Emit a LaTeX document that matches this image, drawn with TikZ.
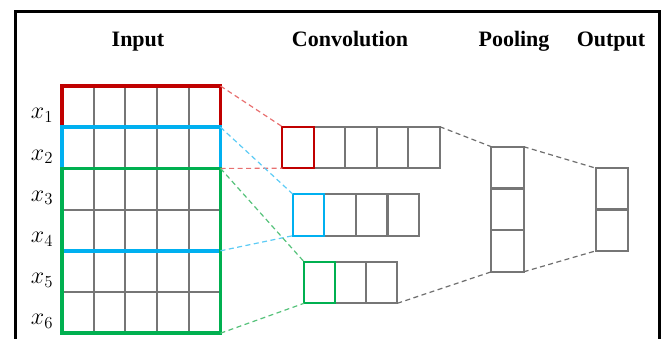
\documentclass[tikz,border=0pt]{standalone}
\usepackage{fix-cm}
\usepackage{fontspec}
\setmainfont{Liberation Serif}
\definecolor{cred}{HTML}{C00000}
\definecolor{cblue}{HTML}{00B0F0}
\definecolor{cgreen}{HTML}{00B050}
\definecolor{cgrid}{HTML}{767676}
\definecolor{dred}{HTML}{E87070}
\definecolor{dblue}{HTML}{5CCBF5}
\definecolor{dgreen}{HTML}{55C27A}
\definecolor{dgrey}{HTML}{6E6E6E}
\begin{document}
\begin{tikzpicture}[x=1pt,y=-1pt,
  gridline/.style={draw=cgrid, line width=1.9pt},
  colbox/.style={line width=3.8pt},
  cellbox/.style={line width=2.2pt},
  conn/.style={dash pattern=on 5pt off 3.5pt, line width=1.2pt},
  title/.style={font=\bfseries\fontsize{22}{25}\selectfont, inner sep=0pt, anchor=base},
  xlab/.style={font=\fontsize{24}{28}\selectfont, inner sep=0pt}]
\useasboundingbox (0,0) rectangle (666,338);
% frame
\draw[line width=2.6pt] (15.3,345) |- (659.5,11.3) -- (659.5,345);
% titles
\node[title] (tin)  at (138,46.5) {Input};
\node[title] (tcv)  at (350,46.5) {Convolution};
\node[title] (tpl)  at (514,46.5) {Pooling};
\node[title] (tout) at (611,46.5) {Output};
% input grid
\foreach \i in {0,...,6}{
  \draw[gridline] (62,86+41.2*\i) -- (220.5,86+41.2*\i);}
\foreach \j in {0,...,5}{
  \draw[gridline] (62+31.7*\j,86) -- (62+31.7*\j,333.2);}
% labels
\foreach \k in {1,...,6}{
  \node[xlab] (x\k) at (42,86+41.2*\k-20.6+9) {$x_{\k}$};}
% coloured windows
\coordinate (iA) at (220.5,86);
\coordinate (iB) at (220.5,127.2);
\coordinate (iC) at (220.5,168.4);
\coordinate (iD) at (220.5,250.8);
\coordinate (iE) at (220.5,333.2);
\draw[colbox,cred] (62,168.4) -- (62,86) -- (iA) -- (iC);
\draw[colbox,cblue] (62,127.2) rectangle (iD);
\draw[colbox,cgreen] (62,168.4) rectangle (iE);
% convolution rows
\foreach \j in {0,...,4}{
  \draw[cellbox,draw=cgrid] (282.3+31.5*\j,126.7) rectangle (282.3+31.5*\j+31.5,168.3);}
\foreach \j in {0,...,3}{
  \draw[cellbox,draw=cgrid] (292.7+31.6*\j,194) rectangle (292.7+31.6*\j+31.6,235.7);}
\foreach \j in {0,...,2}{
  \draw[cellbox,draw=cgrid] (304+31.1*\j,261.7) rectangle (304+31.1*\j+31.1,303.3);}
\draw[cellbox,draw=cred] (282.3,126.7) rectangle (313.8,168.3);
\draw[cellbox,draw=cblue] (292.7,194) rectangle (324.3,235.7);
\draw[cellbox,draw=cgreen] (304,261.7) rectangle (335.1,303.3);
\coordinate (c1tl) at (282.3,126.7);
\coordinate (c1bl) at (282.3,168.3);
\coordinate (c1tr) at (439.8,126.7);
\coordinate (c2tl) at (292.7,194);
\coordinate (c2bl) at (292.7,235.7);
\coordinate (c3tl) at (304,261.7);
\coordinate (c3bl) at (304,303.3);
\coordinate (c3br) at (397.3,303.3);
% pooling
\foreach \j in {0,...,2}{
  \draw[cellbox,draw=cgrid] (491.3,146.7+41.7*\j) rectangle (523.7,146.7+41.7*\j+41.7);}
\coordinate (ptl) at (491.3,146.7);
\coordinate (pbl) at (491.3,271.8);
\coordinate (ptr) at (523.7,146.7);
\coordinate (pbr) at (523.7,271.8);
% output
\foreach \j in {0,...,1}{
  \draw[cellbox,draw=cgrid] (596.3,168.3+41.2*\j) rectangle (627.7,168.3+41.2*\j+41.2);}
\coordinate (otl) at (596.3,168.3);
\coordinate (obl) at (596.3,250.7);
% dashed connectors
\draw[conn,dred] (iA) -- (c1tl);
\draw[conn,dred] (iC) -- (c1bl);
\draw[conn,dblue] (iB) -- (c2tl);
\draw[conn,dblue] (iD) -- (c2bl);
\draw[conn,dgreen] (iC) -- (c3tl);
\draw[conn,dgreen] (iE) -- (c3bl);
\draw[conn,dgrey] (c1tr) -- (ptl);
\draw[conn,dgrey] (c3br) -- (pbl);
\draw[conn,dgrey] (ptr) -- (otl);
\draw[conn,dgrey] (pbr) -- (obl);
\end{tikzpicture}
\end{document}
